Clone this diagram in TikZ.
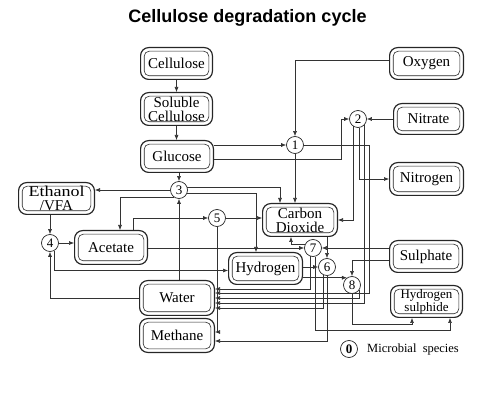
\documentclass[tikz,border=0pt]{standalone}
\usepackage{fontspec}
\usepackage{graphicx}
\setmainfont{Liberation Serif}
\newfontfamily\titlefont{Liberation Sans}
\usetikzlibrary{arrows.meta,calc}
\tikzset{
  box/.style={draw=black!85, line width=1.2pt, rounded corners=8pt, inner sep=0pt,
    outer sep=0.6pt, align=center, font=\fontsize{15}{14}\selectfont,
    path picture={\draw[black!85, line width=0.6pt, rounded corners=5pt]
      ($(path picture bounding box.south west)+(3.6,-3.6)$) rectangle
      ($(path picture bounding box.north east)+(-3.6,3.6)$);}},
  mic/.style={circle, draw=black!85, line width=0.7pt, minimum size=17pt, inner sep=0pt,
    font=\fontsize{13}{13}\selectfont},
  con/.style={draw=black!80, line width=0.6pt},
  ar/.style={con, -{Latex[length=5pt,width=4pt]}},
}
\begin{document}
\begin{tikzpicture}[x=1pt,y=-1pt]
\useasboundingbox (0,0) rectangle (480,393);
\node[font=\titlefont\bfseries\fontsize{18}{18}\selectfont, anchor=base] (title) at (247.5,23) {Cellulose degradation cycle};

% boxes
\node[box, minimum width=71.8pt, minimum height=31.8pt] (cell)  at (176.5,63.5) {Cellulose};
\node[box, minimum width=71.8pt, minimum height=32.8pt] (sol)   at (176.5,109) {Soluble\\Cellulose};
\node[box, minimum width=72.8pt, minimum height=31.8pt] (gluc)  at (177,156.5) {Glucose};
\node[box, minimum width=73.8pt, minimum height=31.8pt] (oxy)   at (426.5,63.5) {Oxygen};
\node[box, minimum width=69.8pt, minimum height=30.8pt] (nitra) at (428.5,119) {Nitrate};
\node[box, minimum width=73.8pt, minimum height=32.8pt] (nitro) at (426.5,179) {Nitrogen};
\node[box, minimum width=75.8pt, minimum height=31.8pt] (eth)   at (56.5,198.5) {\scalebox{1.2}[1]{Ethanol}\\/VFA};
\node[box, minimum width=72.8pt, minimum height=33.8pt] (ace)   at (111,247.5) {Acetate};
\node[box, minimum width=74.8pt, minimum height=32.8pt] (co2)   at (300,220) {Carbon\\Dioxide};
\node[box, minimum width=73.8pt, minimum height=31.8pt] (hyd)   at (265.5,268.5) {Hydrogen};
\node[box, minimum width=72.8pt, minimum height=31.8pt] (sul)   at (426,256.5) {Sulphate};
\node[box, minimum width=71.8pt, minimum height=31.8pt, font=\fontsize{13}{13}\selectfont] (h2s) at (426.5,301.5) {Hydrogen\\sulphide};
\node[box, minimum width=74.8pt, minimum height=34.8pt] (water) at (177,298) {Water};
\node[box, minimum width=74.8pt, minimum height=33.8pt] (meth)  at (177,335.5) {Methane};

% microbial species
\node[mic] (c1) at (295,145) {1};
\node[mic] (c2) at (358,119) {2};
\node[mic] (c3) at (179,190) {3};
\node[mic] (c4) at (50,243) {4};
\node[mic] (c5) at (217,218) {5};
\node[mic] (c6) at (327,267) {6};
\node[mic] (c7) at (313,248) {7};
\node[mic] (c8) at (352,285) {8};
\node[mic, font=\bfseries\fontsize{13}{13}\selectfont] (leg) at (349,349) {0};
\node[anchor=west, inner sep=0pt, font=\fontsize{12.5}{12}\selectfont] (legt) at (367,349) {Microbial\hspace{0.5em}species};

% chain
\draw[ar] (cell) -- (sol);
\draw[ar] (sol.south) -- (sol.south |- gluc.north);
\draw[ar] (c3.north |- gluc.south) -- (c3.north);
\draw[ar] (gluc.east |- c1.west) -- (c1.west);
\draw[ar] ($(gluc.east)+(0,2.5)$) -| ($(c2.west)+(-8,0)$) -- (c2.west);
\draw[ar] ($(oxy.west)+(0,-3.5)$) -| (c1.north);
\draw[ar] (nitra.west) -- (c2.east);
\draw[ar] (c2.-83) |- (nitro.west);
\draw[ar] (c2.-126) |- (co2.east);
\draw[ar] (c2.-45) |- ($(water.east)+(0,5)$);
\draw[ar] (c1.east) -| ($(water.east)+(154,-5)$) -- ($(water.east)+(0,-5)$);
\draw[ar] (c1.south) -- (c1.south |- co2.north);
\draw[ar] (c3.21) -| ($(co2.north)+(-20,0)$);
\draw[ar] (c3.-21) -| ($(hyd.north)+(-9.5,0)$);
\draw[ar] (c3.west) -- (c3.west -| eth.east);
\draw[ar] (c3.-125) -| ($(ace.north)+(9,0)$);
\draw[ar] (c3.south |- water.north) -- (c3.south);
\draw[ar] ($(ace.north)+(22,0)$) |- (c5.west);
\draw[ar] (c5.east) -- (c5.east -| co2.west);
\draw[ar] (c5.south) |- ($(meth.east)+(0,-3.5)$);
\draw[ar] (ace.east |- c7.west) -- (c7.west);
\draw[ar] (c7.152) -| ($(co2.south)+(-9,0)$);
\draw[ar] (c4.north |- eth.south) -- (c4.north);
\draw[ar] (c4.east) -- (c4.east -| ace.west);
\draw[ar] (water.west) -| (c4.south);
\draw[ar] (c4.-62) |- ($(hyd.west)+(0,2)$);
\draw[ar] (hyd.east |- c6.west) -- (c6.west);
\draw[ar] (hyd.east |- c8.125) -- (c8.125);
\draw[ar] (c6.north |- co2.south) -- (c6.north);
\draw[ar] (sul.west |- c7.east) -- (c7.east);
\draw[ar] ($(sul.west)+(0,3.5)$) -| (c8.north);
\draw[ar] (c6.south) |- ($(meth.east)+(0,5.5)$);
\draw[ar] (c6.-118) |- ($(water.east)+(0,10)$);
\draw[ar] (c7.-111) |- ($(water.east)+(0,-9)$);
\draw[ar] (c7.-76) |- ($(h2s.south)+(23.5,12.4)$) -- ($(h2s.south)+(23.5,0)$);
\draw[ar] (c8.south) |- ($(h2s.south)+(-14.5,6)$) -- ($(h2s.south)+(-14.5,0)$);
\draw[ar] (c8.-35) |- (water.east);
\end{tikzpicture}
\end{document}
